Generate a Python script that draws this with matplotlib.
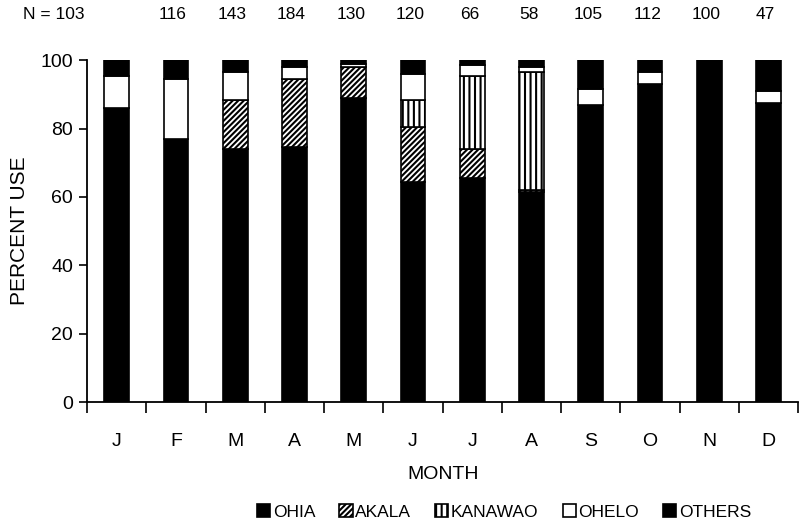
import matplotlib
matplotlib.use("Agg")
import matplotlib.pyplot as plt
import numpy as np

plt.rcParams['font.family'] = ['Liberation Sans', 'DejaVu Sans']

months = ["J", "F", "M", "A", "M", "J", "J", "A", "S", "O", "N", "D"]
n_obs = [103, 116, 143, 184, 130, 120, 66, 58, 105, 112, 100, 47]

# percent use of each plant per month (stacked bottom to top)
ohia = [86, 77, 74, 74.5, 89, 64.5, 65.5, 61.5, 87, 93, 100, 87.5]
akala = [0, 0, 14.5, 20, 9, 16, 8.5, 0.5, 0, 0, 0, 0]
kanawao = [0, 0, 0, 0, 0, 8, 21.5, 34.5, 0, 0, 0, 0]
ohelo = [9.5, 17.5, 8, 3.5, 0.8, 7.5, 3, 1.5, 4.5, 3.5, 0, 3.5]
others = [4.5, 5.5, 3.5, 2, 1.2, 4, 1.5, 2, 8.5, 3.5, 0, 9]

series = [
    ("OHIA", ohia, "black", ""),
    ("AKALA", akala, "white", "//////"),
    ("KANAWAO", kanawao, "white", "|||"),
    ("OHELO", ohelo, "white", ""),
    ("OTHERS", others, "black", ""),
]

plt.rcParams['hatch.linewidth'] = 1.5

fig = plt.figure(figsize=(7.99, 5.29), dpi=100)
ax = fig.add_axes([0.109, 0.240, 0.89, 0.646])

x = np.arange(len(months))
bottom = np.zeros(len(months))
handles = []
for name, vals, color, hatch in series:
    b = ax.bar(x, vals, 0.42, bottom=bottom, color=color, edgecolor="black",
               linewidth=1.2, hatch=hatch, label=name)
    handles.append(b)
    bottom += np.array(vals)

ax.set_xlim(-0.5, 11.5)
ax.set_ylim(0, 100)
ax.set_yticks([0, 20, 40, 60, 80, 100])
ax.tick_params(axis="y", labelsize=14, length=6, width=1.2, direction="out", pad=4)

# tick marks between months, labels centred under bars
ax.set_xticks(np.arange(-0.5, 12, 1))
ax.set_xticklabels([])
ax.set_xticks(x, minor=True)
ax.set_xticklabels(months, minor=True, fontsize=14)
ax.tick_params(axis="x", which="major", length=8, width=1.2, direction="out")
ax.tick_params(axis="x", which="minor", length=0, pad=22)

for s in ["top", "right"]:
    ax.spines[s].set_visible(False)
ax.spines["left"].set_linewidth(1.3)
ax.spines["bottom"].set_linewidth(1.3)

ax.set_ylabel("PERCENT USE", fontsize=15, labelpad=8)
ax.set_xlabel("MONTH", fontsize=14, labelpad=12)

# sample sizes above each bar
for i, n in enumerate(n_obs):
    if i == 0:
        ax.text(-1.06, 113.5, "N = %d" % n, ha="center", va="center", fontsize=12.5)
    else:
        ax.text(i - 0.05, 113.5, str(n), ha="center", va="center", fontsize=12.5)

fig.legend(handles=handles, loc="center", bbox_to_anchor=(0.631, 0.032), ncol=5,
           frameon=False, fontsize=12.5, handlelength=0.75, handleheight=0.75,
           handletextpad=0.15, columnspacing=1.4, borderpad=0)

fig.savefig("out.png", dpi=100)
